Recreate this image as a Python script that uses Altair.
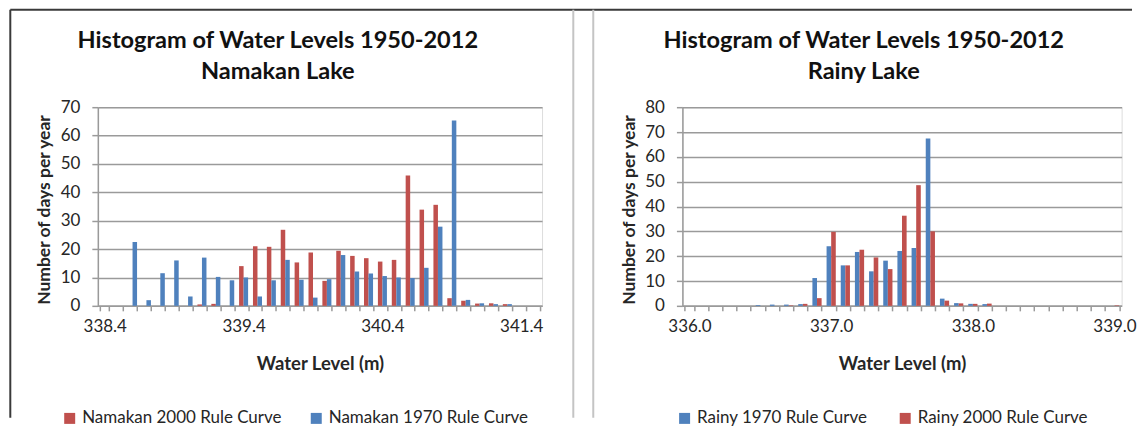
import json
import altair as alt
import pandas as pd

# ---------------- data ----------------
nam_levels = ["338.4", "338.5", "338.6", "338.7", "338.8", "338.9", "339.0", "339.1",
              "339.2", "339.3", "339.4", "339.5", "339.6", "339.7", "339.8", "339.9",
              "340.0", "340.1", "340.2", "340.3", "340.4", "340.5", "340.6", "340.7",
              "340.8", "340.9", "341.0", "341.1", "341.2", "341.3", "341.4", "341.5"]
nam_2000 = [0, 0, 0, 0, 0, 0, 0, 0.5,
            0.7, 0, 14, 21, 20.8, 26.8, 15.3, 18.8,
            8.8, 19.4, 17.6, 16.8, 15.6, 16.2, 45.9, 33.9,
            35.6, 2.7, 1.8, 0.8, 0.9, 0.6, 0, 0]
nam_1970 = [0, 0, 22.5, 2, 11.5, 16, 3.3, 17,
            10.2, 9, 10, 3.3, 9, 16.2, 9.2, 2.9,
            9.4, 17.9, 12.1, 11.4, 10.5, 10, 9.8, 13.4,
            27.9, 65.3, 2.1, 0.9, 0.6, 0.6, 0, 0]
nam_tick_labels = ["338.4", "339.4", "340.4", "341.4"]
nam_series = ["Namakan 2000 Rule Curve", "Namakan 1970 Rule Curve"]
nam_title = ["Histogram of Water Levels 1950-2012", "Namakan Lake"]

rainy_levels = ["336.0", "336.1", "336.2", "336.3", "336.4", "336.5", "336.6", "336.7",
                "336.8", "336.9", "337.0", "337.1", "337.2", "337.3", "337.4", "337.5",
                "337.6", "337.7", "337.8", "337.9", "338.0", "338.1", "338.2", "338.3",
                "338.4", "338.5", "338.6", "338.7", "338.8", "338.9", "339.0"]
rainy_1970 = [0, 0, 0, 0, 0, 0.3, 0.5, 0.5,
              0.7, 11.2, 24, 16.3, 21.7, 13.9, 18.2, 22.1,
              23.3, 67.4, 2.9, 1.1, 0.8, 0.7, 0, 0,
              0, 0, 0, 0, 0, 0, 0]
rainy_2000 = [0, 0, 0, 0, 0, 0, 0, 0.2,
              0.8, 3.1, 29.8, 16.3, 22.6, 19.5, 14.8, 36.3,
              48.6, 30, 2.1, 1.0, 0.8, 0.9, 0, 0,
              0, 0, 0, 0, 0, 0, 0.2]
rainy_tick_labels = ["336.0", "337.0", "338.0", "339.0"]
rainy_series = ["Rainy 1970 Rule Curve", "Rainy 2000 Rule Curve"]
rainy_title = ["Histogram of Water Levels 1950-2012", "Rainy Lake"]

y_title = "Number of days per year"
x_title = "Water Level (m)"

RED = "#C0504D"
BLUE = "#4F81BD"
GRID = "#9a9a9a"
TEXT = "#262626"
FONT = "Lato"

nam_df = pd.DataFrame({
    "level": nam_levels + nam_levels,
    "series": [nam_series[0]] * len(nam_levels) + [nam_series[1]] * len(nam_levels),
    "days": nam_2000 + nam_1970,
})
rainy_df = pd.DataFrame({
    "level": rainy_levels + rainy_levels,
    "series": [rainy_series[0]] * len(rainy_levels) + [rainy_series[1]] * len(rainy_levels),
    "days": rainy_1970 + rainy_2000,
})
one = pd.DataFrame({"k": [0]})

H = 199


def bars(df, levels, ticks, series, colors, ymax, legend_x, col_pad):
    label_expr = f"indexof({json.dumps(ticks)}, datum.label) >= 0 ? datum.label : ''"
    return alt.Chart(df).mark_bar().encode(
        x=alt.X("level:N", sort=levels,
                scale=alt.Scale(domain=levels, paddingInner=0.35, paddingOuter=0.175),
                axis=alt.Axis(title=x_title, labelExpr=label_expr, labelOverlap=False,
                              labelAngle=0, tickBand="extent", grid=False,
                              domainColor=GRID, domainWidth=1.5, tickColor=GRID,
                              tickWidth=1.5, tickSize=5, labelPadding=8,
                              labelFont=FONT, labelFontSize=17, labelColor=TEXT,
                              titleFont=FONT, titleFontSize=18.5, titleFontWeight="bold",
                              titleColor=TEXT, titleY=57.5, titleBaseline="middle")),
        xOffset=alt.XOffset("series:N", scale=alt.Scale(domain=series)),
        y=alt.Y("days:Q", scale=alt.Scale(domain=[0, ymax], nice=False),
                axis=alt.Axis(title=y_title, values=list(range(0, ymax + 1, 10)),
                              grid=True, gridColor=GRID, gridWidth=1.5,
                              domainColor=GRID, domainWidth=1.5, tickColor=GRID,
                              tickWidth=1.5, tickSize=6, labelPadding=12,
                              labelFont=FONT, labelFontSize=17, labelColor=TEXT,
                              titleFont=FONT, titleFontSize=17.5, titleFontWeight="bold",
                              titleColor=TEXT, titleX=-53, titleY=H / 2 + 3,
                              titleBaseline="middle", titleAlign="center")),
        color=alt.Color("series:N", scale=alt.Scale(domain=series, range=colors),
                        legend=alt.Legend(title=None, orient="none", legendX=legend_x,
                                          legendY=303, direction="horizontal",
                                          symbolType="square", symbolSize=121,
                                          symbolStrokeWidth=0, labelFont=FONT,
                                          labelFontSize=17, labelColor=TEXT,
                                          labelLimit=0, labelOffset=4,
                                          columnPadding=col_pad, padding=0)),
    )


def title_text(lines, cx):
    return alt.Chart(one).mark_text(
        text=lines, font=FONT, fontSize=23.6, fontWeight="bold", color="#111",
        align="center", baseline="alphabetic", lineHeight=31,
    ).encode(x=alt.value(cx), y=alt.value(-59.5))


def vrule(x, color, w=2):
    return alt.Chart(one).mark_rule(color=color, strokeWidth=w).encode(
        x=alt.value(x), y=alt.value(-97.5), y2=alt.value(311))


frame_top = alt.Chart(one).mark_rule(color="#3a3a3a", strokeWidth=2).encode(
    x=alt.value(-87.7), x2=alt.value(1036), y=alt.value(-97.5))

left = alt.layer(
    vrule(-87.7, "#3a3a3a"),
    frame_top,
    vrule(476.3, "#c4c4c4"),
    vrule(496.3, "#c4c4c4"),
    title_text(nam_title, 180.3),
    bars(nam_df, nam_levels, nam_tick_labels, nam_series, [RED, BLUE], 70, -36.7, 26),
).properties(width=445, height=H)

right = alt.layer(
    title_text(rainy_title, 181.7),
    bars(rainy_df, rainy_levels, rainy_tick_labels, rainy_series, [BLUE, RED], 80, -6.3, 29),
).properties(width=440, height=H)

chart = alt.hconcat(left, right, spacing=140.6, bounds="flush").resolve_scale(
    color="independent", x="independent", y="independent", xOffset="independent"
).properties(padding=0).configure_view(stroke=None).configure(font=FONT)

chart.save("out.html", embed_options={"renderer": "svg", "actions": False})
